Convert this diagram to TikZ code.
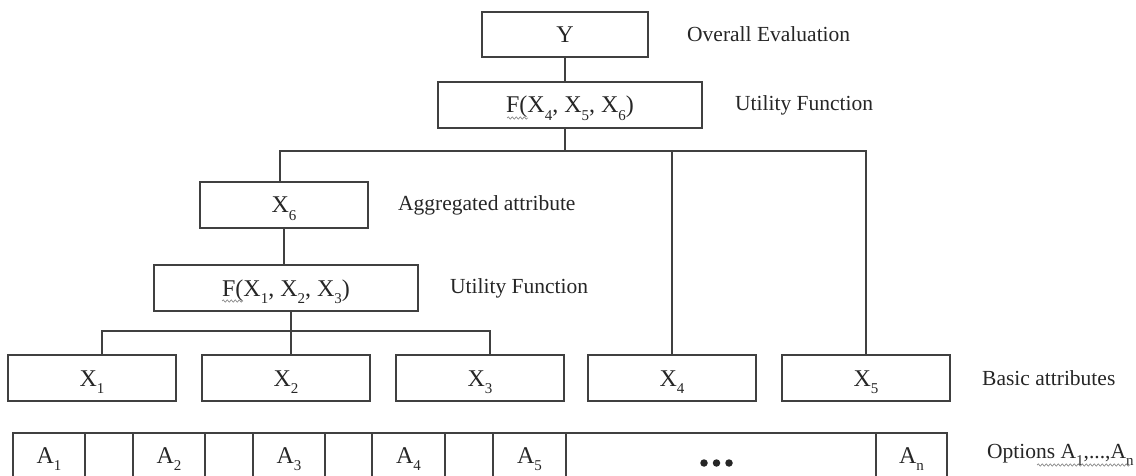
\documentclass[tikz,border=0pt]{standalone}
\usepackage{fontspec}
\setmainfont{Liberation Serif}
\usetikzlibrary{decorations.pathmorphing}
% small lowered index for attribute and option names
\newcommand\ix[1]{\raisebox{-0.3em}{\fontsize{15}{15}\selectfont #1}}

\begin{document}
\begin{tikzpicture}[x=1pt,y=-1pt,
  frame/.style={draw=black!75, line width=2pt},
  box/.style={frame, rectangle, inner sep=0pt, minimum height=46pt,
    text height=16pt, text depth=0pt,
    font=\fontsize{24}{28}\selectfont, text=black!85},
  cell/.style={box, text height=15pt},
  note/.style={anchor=west, inner sep=0pt,
    font=\fontsize{21.5}{26}\selectfont, text=black!85},
  link/.style={draw=black!75, line width=2pt},
  dot/.style={fill=black!85, circle, inner sep=0pt, minimum size=7.5pt},
  squiggle/.style={draw=black!45, line width=0.7pt, decorate,
    decoration={snake, amplitude=1.2pt, segment length=4pt}}
]
\useasboundingbox (0,0) rectangle (1136,476);
\clip (0,0) rectangle (1136,476);

% hierarchy
\node[box, minimum width=166pt, minimum height=45pt] (Y) at (565,34.5) {Y};
\node[box, minimum width=264pt] (Ftop) at (570,105)  {F(X\ix4, X\ix5, X\ix6)};
\node[box, minimum width=168pt] (X6)   at (284,205)  {X\ix6};
\node[box, minimum width=264pt] (Fmid) at (286,288)  {F(X\ix1, X\ix2, X\ix3)};

\node[box, minimum width=168pt] (X1) at (92,378)  {X\ix1};
\node[box, minimum width=168pt] (X2) at (286,378) {X\ix2};
\node[box, minimum width=168pt] (X3) at (480,378) {X\ix3};
\node[box, minimum width=168pt] (X4) at (672,378) {X\ix4};
\node[box, minimum width=168pt] (X5) at (866,378) {X\ix5};

% options row
\node[cell, minimum width=72pt]  (A1) at (49,456)    {A\ix1};
\node[cell, minimum width=48pt]  (B1) at (109,456)   {};
\node[cell, minimum width=72pt]  (A2) at (169,456)   {A\ix2};
\node[cell, minimum width=48pt]  (B2) at (229,456)   {};
\node[cell, minimum width=72pt]  (A3) at (289,456)   {A\ix3};
\node[cell, minimum width=47pt]  (B3) at (348.5,456) {};
\node[cell, minimum width=73pt]  (A4) at (408.5,456) {A\ix4};
\node[cell, minimum width=48pt]  (B4) at (469,456)   {};
\node[cell, minimum width=73pt]  (A5) at (529.5,456) {A\ix5};
\node[cell, minimum width=310pt] (Dots) at (721,456) {};
\node[cell, minimum width=71pt]  (An) at (911.5,456) {A\ix{n}};
\node[dot] (d1) at ([xshift=-17pt,yshift=-7pt]Dots.center) {};
\node[dot] (d2) at ([xshift=-4.5pt,yshift=-7pt]Dots.center) {};
\node[dot] (d3) at ([xshift=8pt,yshift=-7pt]Dots.center) {};

% level labels
\node[note] (nY)    at (687,34.5) {Overall Evaluation};
\node[note] (nFtop) at (735,105)  {Utility Function};
\node[note] (nX6)   at (398,205)  {Aggregated attribute};
\node[note] (nFmid) at (450,288)  {Utility Function};
\node[note] (nX)    at (982,378)  {Basic attributes};
\node[note] (nA)    at (987,455)  {Options A\ix1,...,A\ix{n}};

% connectors
\coordinate (busTop) at (565,151);
\coordinate (busMid) at (291,331);
\draw[link] (Y.south) -- (Y.south |- Ftop.north);
\draw[link] (Y.south |- Ftop.south) -- (busTop);
\draw[link] ([xshift=-4pt]X6.north) |- (X5.north |- busTop) -- (X5.north);
\draw[link] (X4.north) -- (X4.north |- busTop);
\draw[link] (X6.south) -- (X6.south |- Fmid.north);
\draw[link] (Fmid.south -| busMid) -- (busMid);
\draw[link] ([xshift=10pt]X1.north) |- ([xshift=10pt]X3.north |- busMid) -- ([xshift=10pt]X3.north);
\draw[link] (X2.north -| busMid) -- (busMid);

% spell-check underlines
\draw[squiggle] (507,118) -- (528,118);
\draw[squiggle] (222,301) -- (243,301);
\draw[squiggle] (1037,465) -- (1130,465);
\end{tikzpicture}
\end{document}
